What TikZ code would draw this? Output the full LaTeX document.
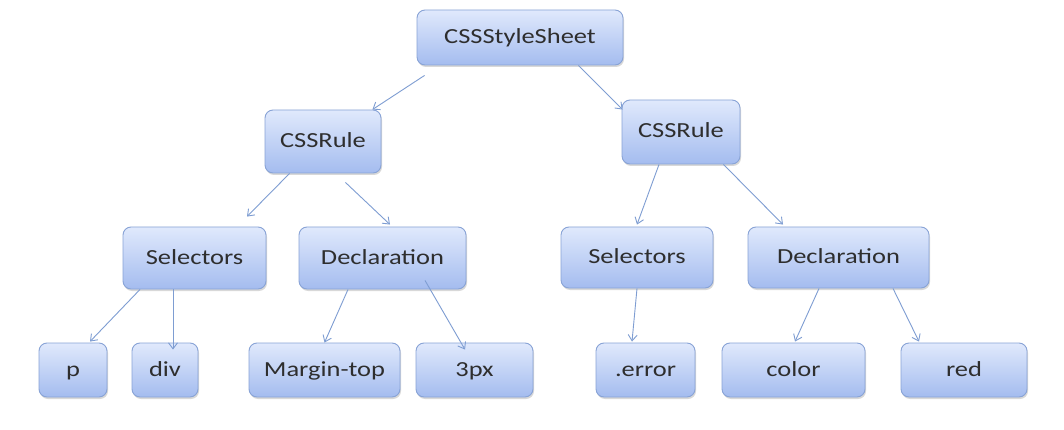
\documentclass[tikz,border=0pt]{standalone}
\usepackage{fontspec}
\setmainfont{Carlito}[FakeStretch=1.23]
\usetikzlibrary{arrows.meta,shadows}
\definecolor{boxtop}{HTML}{E0E9FC}
\definecolor{boxbot}{HTML}{A4BCEF}
\definecolor{boxline}{HTML}{88A3D6}
\definecolor{arrowc}{HTML}{7E9DD2}
\definecolor{txt}{HTML}{2E2E2E}
\tikzset{
  box/.style={rectangle, rounded corners=8pt, draw=boxline, line width=0.9pt,
    top color=boxtop, bottom color=boxbot, text=txt, inner sep=0pt,
    text height=16pt, text depth=4pt,
    font=\fontsize{21.5}{24}\selectfont,
    drop shadow={shadow xshift=1pt, shadow yshift=-2pt, opacity=0.25, fill=black!60}},
  conn/.style={draw=arrowc, line width=0.9pt, -{Straight Barb[length=6pt,width=9pt]}}
}
\begin{document}
\begin{tikzpicture}[x=1pt,y=-1pt]
\useasboundingbox[fill=white] (0,0) rectangle (1064,430);
\node[box, minimum width=206pt, minimum height=55pt] (root) at (520,37.5) {CSSStyleSheet};
\node[box, minimum width=116pt, minimum height=63pt] (r1) at (323,141.5) {CSSRule};
\node[box, minimum width=118pt, minimum height=64pt] (r2) at (681,132) {CSSRule};
\node[box, minimum width=143pt, minimum height=62pt] (s1) at (194.5,258) {Selectors};
\node[box, minimum width=167pt, minimum height=62pt] (d1) at (382.5,258) {Declaration};
\node[box, minimum width=152pt, minimum height=61pt] (s2) at (637,257.5) {Selectors};
\node[box, minimum width=181pt, minimum height=61pt] (d2) at (838.5,257.5) {Declaration};
\node[box, minimum width=68pt, minimum height=54pt] (p) at (73,370) {p};
\node[box, minimum width=66pt, minimum height=54pt] (div) at (165,370) {div};
\node[box, minimum width=151pt, minimum height=54pt] (mt) at (324.5,370) {Margin-top};
\node[box, minimum width=117pt, minimum height=54pt] (px3) at (474.5,370) {3px};
\node[box, minimum width=99pt, minimum height=54pt] (err) at (645.5,370) {.error};
\node[box, minimum width=143pt, minimum height=54pt] (color) at (793.5,370) {color};
\node[box, minimum width=126pt, minimum height=54pt] (red) at (964,370) {red};

\draw[conn] ([xshift=8pt,yshift=-10pt]root.south west) -- ([xshift=-9pt]r1.north east);
\draw[conn] ([xshift=-45pt]root.south east) -- ([xshift=1pt,yshift=-10pt]r2.north west);
\draw[conn] ([xshift=25pt]r1.south west) -- ([xshift=52.5pt,yshift=10pt]s1.north);
\draw[conn] ([xshift=-36pt,yshift=-9pt]r1.south east) -- ([xshift=7.5pt,yshift=2pt]d1.north);
\draw[conn] ([xshift=-22pt]r2.south) -- ([yshift=2pt]s2.north);
\draw[conn] ([xshift=-17pt]r2.south east) -- ([xshift=-55.5pt,yshift=2pt]d2.north);
\draw[conn] ([xshift=-54.5pt]s1.south) -- ([xshift=17pt,yshift=1pt]p.north);
\draw[conn] ([xshift=-21.5pt]s1.south) -- ([xshift=8pt,yshift=-7pt]div.north);
\draw[conn] ([xshift=-34.5pt]d1.south) -- (mt.north);
\draw[conn] ([xshift=42.5pt,yshift=9pt]d1.south) -- ([xshift=-9.5pt,yshift=-7pt]px3.north);
\draw[conn] (s2.south) -- ([xshift=-13.5pt,yshift=1pt]err.north);
\draw[conn] ([xshift=-19.5pt]d2.south) -- ([xshift=1.5pt,yshift=1pt]color.north);
\draw[conn] ([xshift=54.5pt]d2.south) -- ([xshift=-45pt,yshift=1pt]red.north);
\end{tikzpicture}
\end{document}
